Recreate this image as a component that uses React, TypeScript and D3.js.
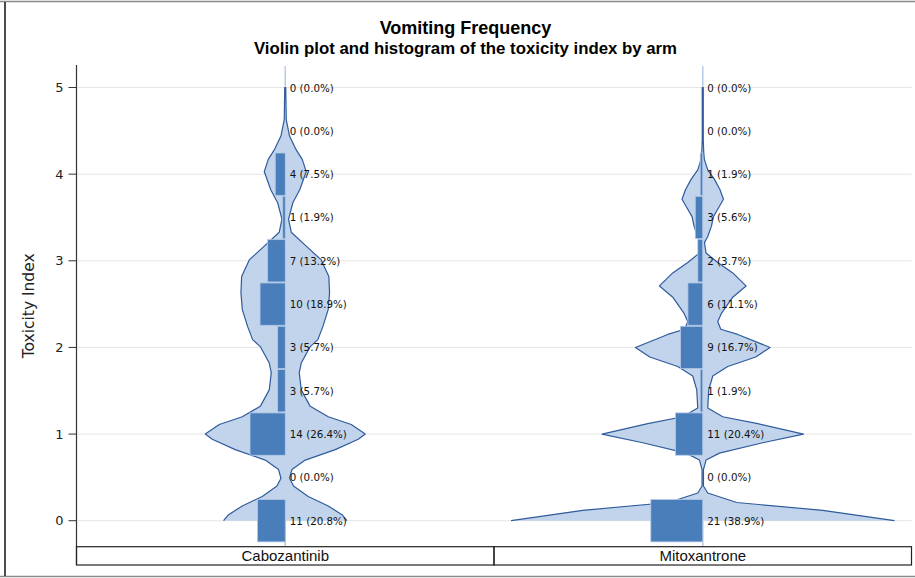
import React from "react";
import * as d3 from "d3";

const arms = ["Cabozantinib", "Mitoxantrone"];
const binCenters = [0, 0.5, 1, 1.5, 2, 2.5, 3, 3.5, 4, 4.5, 5];
const cabozantinibCounts = [11, 0, 14, 3, 3, 10, 7, 1, 4, 0, 0];
const cabozantinibPercents = [20.8, 0.0, 26.4, 5.7, 5.7, 18.9, 13.2, 1.9, 7.5, 0.0, 0.0];
const mitoxantroneCounts = [21, 0, 11, 1, 9, 6, 2, 3, 1, 0, 0];
const mitoxantronePercents = [38.9, 0.0, 20.4, 1.9, 16.7, 11.1, 3.7, 5.6, 1.9, 0.0, 0.0];
const yTicks = [0, 1, 2, 3, 4, 5];

// violin outline: toxicity value and kernel density (half-width units)
const cabozantinibViolinTox = [0, 0.07, 0.17, 0.28, 0.4, 0.49, 0.59, 0.7, 0.82, 0.94, 1.0, 1.11, 1.2, 1.32, 1.51, 1.71, 1.82, 2.01, 2.09, 2.24, 2.44, 2.63, 2.82, 3.01, 3.17, 3.33, 3.48, 3.67, 3.82, 4.03, 4.17, 4.28, 4.44, 4.63, 5.0];
const cabozantinibViolinDensity = [0.617, 0.567, 0.43, 0.23, 0.083, 0.043, 0.067, 0.2, 0.5, 0.73, 0.8, 0.66, 0.43, 0.25, 0.16, 0.14, 0.16, 0.25, 0.326, 0.376, 0.43, 0.443, 0.436, 0.36, 0.21, 0.06, 0.033, 0.076, 0.145, 0.21, 0.17, 0.11, 0.043, 0.01, 0.005];
const mitoxantroneViolinTox = [0, 0.12, 0.21, 0.32, 0.4, 0.59, 0.7, 0.78, 0.9, 1.0, 1.12, 1.2, 1.3, 1.51, 1.67, 1.78, 1.89, 2.0, 2.15, 2.21, 2.3, 2.4, 2.58, 2.71, 2.86, 2.98, 3.09, 3.21, 3.28, 3.4, 3.51, 3.63, 3.71, 3.82, 3.94, 4.05, 4.17, 4.25, 4.4, 5.0];
const mitoxantroneViolinDensity = [1.917, 1.2, 0.34, 0.05, 0.007, 0.007, 0.033, 0.167, 0.6, 1.007, 0.55, 0.2, 0.05, 0.06, 0.1, 0.25, 0.53, 0.673, 0.35, 0.18, 0.15, 0.19, 0.3, 0.433, 0.3, 0.15, 0.033, 0.017, 0.05, 0.087, 0.107, 0.167, 0.207, 0.173, 0.117, 0.05, 0.016, 0.01, 0.005, 0.005];

const VIOLIN_FILL = "#c1d4eb";
const VIOLIN_STROKE = "#2f5b9c";
const BAR_FILL = "#4a7ebb";
const BAR_STROKE = "#b3c9e6";
const CENTER_LINE = "#b8cce6";

export default function App() {
  const W = 915;
  const H = 578;
  const x = d3.scaleBand<string>().domain(arms).range([76.5, 911.5]);
  const y = d3.scaleLinear().domain([-0.3, 5.26]).range([546.7, 65]);
  const wScale = d3.scaleLinear().domain([0, 2]).range([0, 200]);
  const barW = d3.scaleLinear().domain([0, 40]).range([0, 53.4]);

  const series = [
    { arm: arms[0], counts: cabozantinibCounts, pct: cabozantinibPercents, tox: cabozantinibViolinTox, dens: cabozantinibViolinDensity },
    { arm: arms[1], counts: mitoxantroneCounts, pct: mitoxantronePercents, tox: mitoxantroneViolinTox, dens: mitoxantroneViolinDensity },
  ];

  const plotLeft = 76.5;
  const plotRight = 911.5;
  const plotTop = 65;
  const axisY = 546.7;
  const boxBottom = 565;

  return (
    <svg width={W} height={H} style={{ position: "absolute", left: 0, top: 0, background: "#fff" }}>
      <rect x={0} y={0} width={W} height={H} fill="#fff" />
      {/* gridlines */}
      {yTicks.map((t) => (
        <line key={"g" + t} x1={plotLeft + 1} x2={plotRight} y1={y(t)} y2={y(t)} stroke="#e6e6e6" strokeWidth={1} />
      ))}
      {series.map((s) => {
        const cx = (x(s.arm) as number) + x.bandwidth() / 2;
        const pts: [number, number][] = s.tox.map((t, i) => [t, s.dens[i]]);
        const area = d3
          .area<[number, number]>()
          .y((p) => y(p[0]))
          .x0((p) => cx - wScale(p[1]))
          .x1((p) => cx + wScale(p[1]))
          .curve(d3.curveLinear);
        const outlinePts: [number, number][] = [
          ...pts.map((p) => [cx - wScale(p[1]), y(p[0])] as [number, number]),
          ...pts
            .slice()
            .reverse()
            .map((p) => [cx + wScale(p[1]), y(p[0])] as [number, number]),
        ];
        const line = d3.line<[number, number]>().curve(d3.curveLinear);
        return (
          <g key={s.arm}>
            <line x1={cx} x2={cx} y1={plotTop + 1} y2={axisY} stroke={CENTER_LINE} strokeWidth={1.5} />
            <path d={area(pts) || ""} fill={VIOLIN_FILL} stroke="none" />
            <path d={line(outlinePts) || ""} fill="none" stroke={VIOLIN_STROKE} strokeWidth={1.2} strokeLinejoin="round" />
            {binCenters.map((v, i) => {
              const bw = barW(s.pct[i]);
              const y0 = y(v + 0.25) + 0.5;
              const y1 = y(v - 0.25) - 0.5;
              return (
                <rect
                  key={"b" + i}
                  x={cx - bw}
                  y={y0}
                  width={bw}
                  height={y1 - y0}
                  fill={BAR_FILL}
                  stroke={BAR_STROKE}
                  strokeWidth={0.8}
                />
              );
            })}
            {binCenters.map((v, i) => (
              <text
                key={"l" + i}
                x={cx + 4.5}
                y={y(v)}
                dominantBaseline="central"
                fontFamily="DejaVu Sans"
                fontSize={10.3}
                fill="#111"
              >
                {`${s.counts[i]} (${s.pct[i].toFixed(1)}%)`}
              </text>
            ))}
          </g>
        );
      })}
      {/* y axis */}
      <line x1={plotLeft} x2={plotLeft} y1={plotTop} y2={boxBottom} stroke="#333" strokeWidth={1.2} />
      {yTicks.map((t) => (
        <g key={"t" + t}>
          <line x1={plotLeft - 8} x2={plotLeft} y1={y(t)} y2={y(t)} stroke="#333" strokeWidth={1} />
          <text
            x={plotLeft - 13}
            y={y(t)}
            textAnchor="end"
            dominantBaseline="central"
            fontFamily="DejaVu Sans"
            fontSize={13}
            fill="#222"
          >
            {t}
          </text>
        </g>
      ))}
      <text
        transform={`translate(34, ${(plotTop + axisY) / 2 + 0}) rotate(-90)`}
        textAnchor="middle"
        fontFamily="DejaVu Sans"
        fontSize={15.5}
        fill="#222"
      >
        Toxicity Index
      </text>
      {/* category boxes */}
      {arms.map((a) => (
        <g key={"c" + a}>
          <rect
            x={x(a) as number}
            y={axisY}
            width={x.bandwidth()}
            height={boxBottom - axisY}
            fill="none"
            stroke="#222"
            strokeWidth={1.2}
          />
          <text
            x={(x(a) as number) + x.bandwidth() / 2}
            y={561}
            textAnchor="middle"
            fontFamily="Liberation Sans"
            fontSize={15}
            fill="#111"
          >
            {a}
          </text>
        </g>
      ))}
      {/* titles */}
      <text x={465.5} y={34} textAnchor="middle" fontFamily="Liberation Sans" fontWeight="bold" fontSize={18} fill="#000">
        Vomiting Frequency
      </text>
      <text x={465.5} y={54} textAnchor="middle" fontFamily="Liberation Sans" fontWeight="bold" fontSize={16.8} fill="#000">
        Violin plot and histogram of the toxicity index by arm
      </text>
      {/* outer frame */}
      <line x1={0} x2={W} y1={1.5} y2={1.5} stroke="#8a8a8a" strokeWidth={1.5} />
      <line x1={0} x2={W} y1={576.5} y2={576.5} stroke="#8a8a8a" strokeWidth={1.5} />
      <line x1={5} x2={5} y1={2} y2={576} stroke="#111" strokeWidth={1.5} />
    </svg>
  );
}
